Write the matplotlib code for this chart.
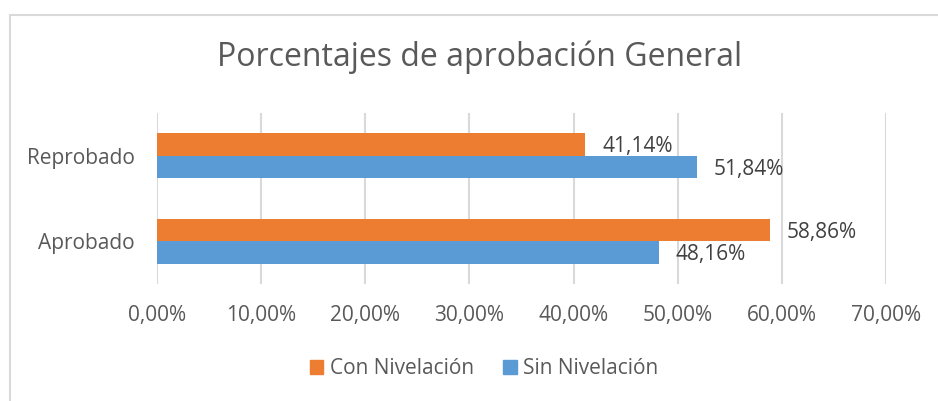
import matplotlib
matplotlib.use("Agg")
import matplotlib.pyplot as plt
from matplotlib.patches import Patch, Rectangle
import numpy as np

# datos
categorias = ["Aprobado", "Reprobado"]
con_nivelacion = [58.86, 41.14]
sin_nivelacion = [48.16, 51.84]
ticks_x = [0, 10, 20, 30, 40, 50, 60, 70]

color_con = "#ED7D31"
color_sin = "#5B9BD5"
gris_texto = "#595959"
gris_grid = "#D9D9D9"

plt.rcParams['font.family'] = ['Open Sans', 'DejaVu Sans']

fig = plt.figure(figsize=(9.38, 4.01), dpi=100)
ax = fig.add_axes([157 / 938, 1 - 284 / 401, (886 - 157) / 938, (284 - 113) / 401])

def fmt(v):
  return "{:.2f}%".format(v).replace(".", ",")

y = np.arange(len(categorias))
alto = 0.263

b_con = ax.barh(y + alto / 2, con_nivelacion, height=alto, color=color_con, label="Con Nivelación", zorder=3)
b_sin = ax.barh(y - alto / 2, sin_nivelacion, height=alto, color=color_sin, label="Sin Nivelación", zorder=3)

for barras, vals in ((b_con, con_nivelacion), (b_sin, sin_nivelacion)):
  for b, v in zip(barras, vals):
    ax.annotate(fmt(v), (b.get_width(), b.get_y() + b.get_height() / 2),
                xytext=(12, -1.5), textcoords="offset points",
                ha="left", va="center", fontsize=15, color="#404040")

ax.set_xlim(0, 70)
ax.set_ylim(-0.5, 1.5)
ax.set_xticks(ticks_x)
ax.set_xticklabels([fmt(t) for t in ticks_x])
ax.set_yticks(y)
ax.set_yticklabels(categorias)
ax.tick_params(axis="x", length=0, pad=15, labelsize=15, labelcolor=gris_texto)
ax.tick_params(axis="y", length=0, pad=16, labelsize=15, labelcolor=gris_texto)
for s in ax.spines.values():
  s.set_visible(False)
ax.xaxis.grid(True, color=gris_grid, linewidth=1.5, zorder=0)
ax.set_axisbelow(True)

fig.text(480 / 938, 1 - 57 / 401, "Porcentajes de aprobación General",
         ha="center", va="center", fontsize=23, color=gris_texto)

handles = [Patch(color=color_con), Patch(color=color_sin)]
fig.legend(handles, ["Con Nivelación", "Sin Nivelación"], loc="center",
           bbox_to_anchor=(484 / 938, 1 - 369 / 401), ncol=2, frameon=False,
           fontsize=15, labelcolor=gris_texto, handlelength=0.65, handleheight=0.65,
           handletextpad=0.3, columnspacing=1.4)

# marco del grafico
fig.patches.append(Rectangle((9.5 / 938, -0.1), 1.2, 1.1 - 14.5 / 401, transform=fig.transFigure,
                             fill=False, edgecolor=gris_grid, linewidth=1.5))

fig.savefig("out.png", dpi=100)
